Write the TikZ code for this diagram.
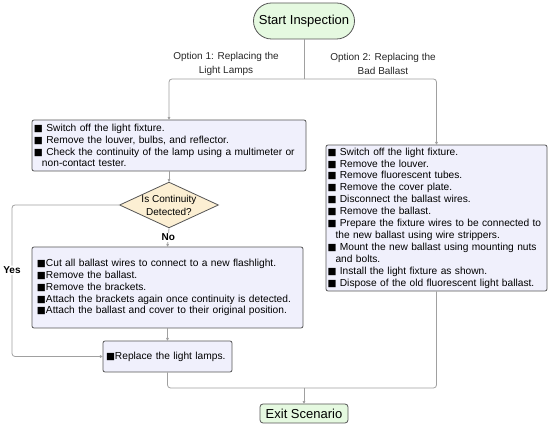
\documentclass[tikz,border=0pt]{standalone}
\usepackage{fontspec}
\setmainfont{Liberation Sans}
\newfontfamily\symfont{DejaVu Sans}
\usetikzlibrary{shapes.geometric,arrows.meta,calc}
\definecolor{boxfill}{HTML}{F0F0FC}
\definecolor{diafill}{HTML}{FCEFD3}
\definecolor{startfill}{HTML}{E5F9E0}
\definecolor{edgecol}{HTML}{555555}
\definecolor{linecol}{HTML}{A0A0A0}
\newcommand{\sq}{{\symfont\fontsize{9.5}{10}\selectfont ■}}
\newcommand{\bline}[1]{\mbox{#1}}
\begin{document}
\begin{tikzpicture}[x=1pt,y=-1pt,
  stepbox/.style={draw=edgecol, fill=boxfill, line width=0.8pt, rounded corners=2pt,
    inner xsep=2pt, inner ysep=0pt, align=left, font=\fontsize{10.2}{11.9}\selectfont},
  term/.style={draw=edgecol, fill=startfill, line width=0.8pt, font=\fontsize{13}{15}\selectfont, inner sep=0pt},
  decision/.style={diamond, draw=edgecol, fill=diafill, line width=0.8pt, inner sep=0pt,
    aspect=2.16, font=\fontsize{10}{13}\selectfont, align=center},
  conn/.style={draw=linecol, line width=0.8pt, rounded corners=3pt},
  arr/.style={conn, -{Stealth[length=4pt,width=3.5pt,round]}},
  lbl/.style={font=\fontsize{10}{14}\selectfont, align=center, text=black!85},
  yn/.style={font=\bfseries\fontsize{10}{12}\selectfont, fill=white, inner sep=1pt}
]
\useasboundingbox (0,0) rectangle (550,427);

\node[term, rounded corners=18pt, minimum width=101pt, minimum height=36pt] (start) at (304,21) {Start Inspection};

\node[lbl] (opt1) at (226,64) {Option 1: Replacing the\\Light Lamps};
\node[lbl] (opt2) at (383,64) {Option 2: Replacing the\\Bad Ballast};

\node[stepbox, text width=270pt, minimum height=51pt] (box1) at (169,145.5)
 {\bline{\sq\ Switch off the light fixture.}\\
  \bline{\sq\ Remove the louver, bulbs, and reflector.}\\
  \bline{\sq\ Check the continuity of the lamp using a multimeter or}\\
  \bline{\hspace*{8pt}non-contact tester.}};

\node[decision, minimum width=95pt, minimum height=44pt] (dia) at (169,205) {Is Continuity\\Detected?};

\node[stepbox, inner xsep=5pt, text width=261pt, minimum height=81pt] (box2) at (167.5,287.5)
 {\bline{\sq Cut all ballast wires to connect to a new flashlight.}\\
  \bline{\sq Remove the ballast.}\\
  \bline{\sq Remove the brackets.}\\
  \bline{\sq Attach the brackets again once continuity is detected.}\\
  \bline{\sq Attach the ballast and cover to their original position.}};

\node[stepbox, inner xsep=3pt, text width=123pt, minimum height=31pt] (box3) at (167.5,356.5)
 {\bline{\sq Replace the light lamps.}};

\node[stepbox, inner xsep=1.5pt, text width=218pt, minimum height=146pt] (boxR) at (436.5,218)
 {\bline{\sq\ Switch off the light fixture.}\\
  \bline{\sq\ Remove the louver.}\\
  \bline{\sq\ Remove fluorescent tubes.}\\
  \bline{\sq\ Remove the cover plate.}\\
  \bline{\sq\ Disconnect the ballast wires.}\\
  \bline{\sq\ Remove the ballast.}\\
  \bline{\sq\ Prepare the fixture wires to be connected to}\\
  \bline{\hspace*{8pt}the new ballast using wire strippers.}\\
  \bline{\sq\ Mount the new ballast using mounting nuts}\\
  \bline{\hspace*{8pt}and bolts.}\\
  \bline{\sq\ Install the light fixture as shown.}\\
  \bline{\sq\ Dispose of the old fluorescent light ballast.}};

\node[term, rounded corners=3pt, minimum width=88pt, minimum height=19pt] (exit) at (304,413.5) {Exit Scenario};

\coordinate (j1) at (304,79);
\coordinate (j2) at (304,388);
\coordinate (yc) at (12,205);

\draw[conn] (start.south) -- (j1);
\draw[arr] (j1) -| (box1.north);
\draw[arr] (j1) -| (boxR.north);
\draw[arr] (box1.south) -- (dia.north);
\draw[arr] (dia.south) -- node[yn] (no) {No} (box2.north);
\draw[arr] (dia.west) -- (yc) -- node[yn, pos=0.43] (yes) {Yes} (yc |- box3.west) -- (box3.west);
\draw[arr] (box2.south) -- (box3.north);
\draw[conn] (box3.south) |- (j2);
\draw[conn] (boxR.south) |- (j2);
\draw[arr] (j2) -- (exit.north);
\end{tikzpicture}
\end{document}
